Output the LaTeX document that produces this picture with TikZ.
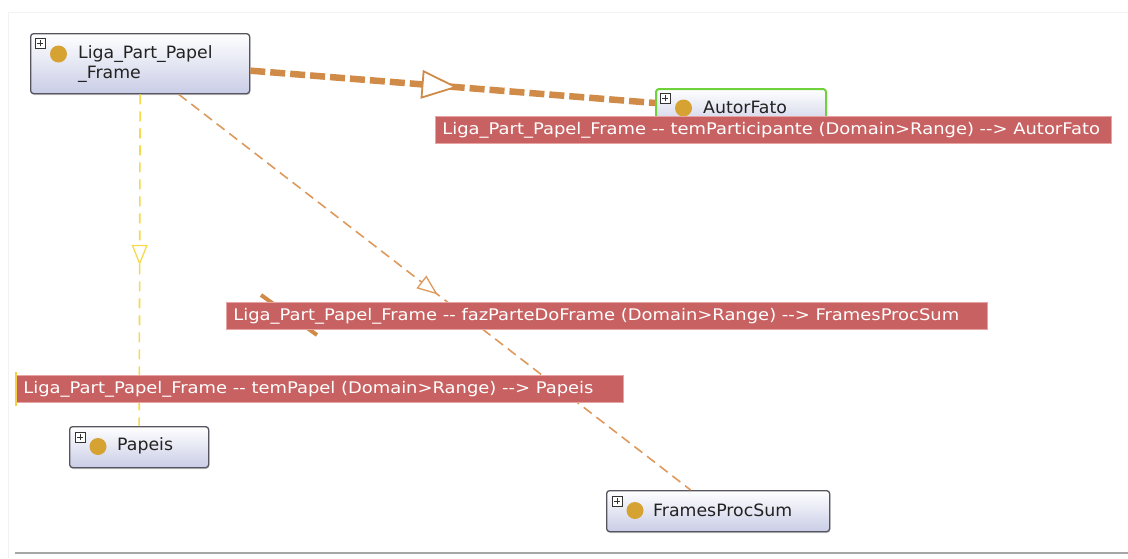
\documentclass[tikz,border=0pt]{standalone}
\usepackage{fontspec}
\setmainfont{DejaVu Sans}
\newfontfamily\boxfont[FakeStretch=1.02]{DejaVu Sans}
\newfontfamily\lblfont[FakeStretch=1.12, Ligatures=TeXOff]{DejaVu Sans}
\usetikzlibrary{decorations.markings, shadows, calc}

\definecolor{boxborder}{HTML}{55555F}
\definecolor{boxbottom}{HTML}{C9CDE6}
\definecolor{dotcol}{HTML}{D6A232}
\definecolor{thickcol}{HTML}{CF8B47}
\definecolor{thincol}{HTML}{DD9A5C}
\definecolor{yellowcol}{HTML}{F6DA4B}
\definecolor{lblfill}{HTML}{C86262}
\definecolor{lblborder}{HTML}{E8A3A3}
\definecolor{selgreen}{HTML}{6FD23C}
\definecolor{textdark}{HTML}{222222}

\tikzset{
  classbox/.style={draw=boxborder, line width=1.3pt, rounded corners=3pt,
    top color=white, bottom color=boxbottom, anchor=north west, inner sep=0pt,
    drop shadow={shadow xshift=0.6pt, shadow yshift=-1.4pt, opacity=0.35}},
  plusbox/.style={draw=black!80, fill=white, minimum size=10pt, inner sep=0pt,
    anchor=north west, line width=0.6pt,
    path picture={
      \draw[line width=1.1pt] ([xshift=-3pt]path picture bounding box.center) -- ++(6pt,0pt);
      \draw[line width=1.1pt] ([yshift=-3pt]path picture bounding box.center) -- ++(0pt,6pt);}},
  classdot/.style={circle, fill=dotcol, minimum size=17pt, inner sep=0pt},
  classname/.style={anchor=west, inner sep=0pt, text=textdark,
    font={\boxfont\fontsize{17pt}{20pt}\selectfont}},
  edgelabel/.style={fill=lblfill, draw=lblborder, line width=0.8pt, anchor=north west,
    inner xsep=7pt, inner ysep=0pt, minimum height=27pt, text=white,
    font={\lblfont\fontsize{16pt}{18pt}\selectfont}},
  midtri/.style n args={4}{postaction={decorate, decoration={markings,
    mark=at position #1 with {\draw[solid, line width=#4, draw=#2, fill=white]
      (-#3,0.4*#3) -- (0pt,0pt) -- (-#3,-0.4*#3) -- cycle;}}}},
  thickedge/.style={draw=thickcol, line width=6.5pt, dash pattern=on 15pt off 5pt},
  thinedge/.style={draw=thincol, line width=1.6pt, dash pattern=on 10pt off 6pt},
  yellowedge/.style={draw=yellowcol, line width=1.6pt, dash pattern=on 10pt off 7pt},
}

\begin{document}
\begin{tikzpicture}[x=1pt, y=-1pt]
\useasboundingbox (0,0) rectangle (1128,558);
\fill[white] (0,0) rectangle (1128,558);

% panel frame
\draw[black!5, line width=1pt] (8,558) -- (8,12) -- (1128,12);
\draw[black!35, line width=1.8pt] (15,553) -- (1128,553);

% class boxes
\node[classbox, minimum width=219pt, minimum height=60pt] (liga) at (30,33) {};
\node[plusbox] (liga-plus) at ($(liga.north west)+(5,5)$) {};
\node[classdot] (liga-dot) at ($(liga.north west)+(28.5,21)$) {};
\node[classname] (liga-name1) at ($(liga.north west)+(48,21)$) {Liga\_Part\_Papel};
\node[classname] (liga-name2) at ($(liga.north west)+(48,41)$) {\_Frame};

\node[classbox, draw=selgreen, line width=2pt, minimum width=170pt, minimum height=40pt] (autor) at (655,88) {};
\node[plusbox] (autor-plus) at ($(autor.north west)+(5,5)$) {};
\node[classdot] (autor-dot) at ($(autor.north west)+(28.5,20)$) {};
\node[classname] (autor-name) at ($(autor.north west)+(48,19)$) {AutorFato};

\node[classbox, minimum width=139pt, minimum height=41pt] (papeis) at (69,426) {};
\node[plusbox] (papeis-plus) at ($(papeis.north west)+(6,6)$) {};
\node[classdot] (papeis-dot) at ($(papeis.north west)+(29,20.5)$) {};
\node[classname] (papeis-name) at ($(papeis.north west)+(48,20)$) {Papeis};

\node[classbox, minimum width=223pt, minimum height=41pt] (frames) at (606,490) {};
\node[plusbox] (frames-plus) at ($(frames.north west)+(6,6)$) {};
\node[classdot] (frames-dot) at ($(frames.north west)+(29,20.5)$) {};
\node[classname] (frames-name) at ($(frames.north west)+(47,20)$) {FramesProcSum};

% object property connectors
\draw[thickedge, midtri={0.507}{thickcol}{33pt}{1.8pt}]
  ([yshift=-7pt]liga.east) -- ([yshift=6pt]autor.west);
\draw[thinedge, midtri={0.503}{thincol}{18pt}{1.3pt}]
  ([xshift=38.5pt]liga.south) -- ([xshift=-27.5pt]frames.north);
\draw[yellowedge, midtri={0.51}{yellowcol}{18pt}{1.3pt}]
  (liga.south) -- (papeis.north);

% fragment of a connector lying under the labels
\draw[thickcol, line width=4pt] (261,295) -- (317,335);

% connector labels
\node[edgelabel] (lbl-autor) at (435,116)
  {\makebox[662pt][l]{Liga\_Part\_Papel\_Frame -- temParticipante (Domain>Range) --> AutorFato}};
\node[edgelabel] (lbl-frames) at (226,302)
  {\makebox[747pt][l]{Liga\_Part\_Papel\_Frame -- fazParteDoFrame (Domain>Range) --> FramesProcSum}};
\node[edgelabel] (lbl-papeis) at (16,375)
  {\makebox[593pt][l]{Liga\_Part\_Papel\_Frame -- temPapel (Domain>Range) --> Papeis}};
\draw[yellowcol!90!orange, line width=2.5pt] ([yshift=3pt]lbl-papeis.north west) -- ([yshift=-3pt]lbl-papeis.south west);
\end{tikzpicture}
\end{document}
